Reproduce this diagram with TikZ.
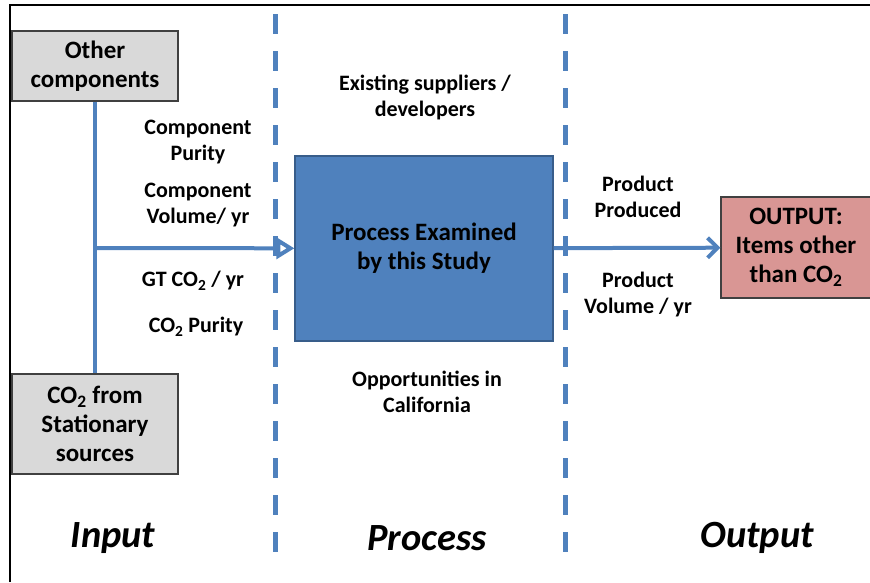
\documentclass[tikz,border=0pt]{standalone}
\usepackage{fontspec}
\setmainfont{Carlito}
\usetikzlibrary{arrows.meta}
\definecolor{lineblue}{HTML}{4F81BD}
\definecolor{procblue}{HTML}{4F81BD}
\definecolor{procedge}{HTML}{385D8A}
\definecolor{boxgray}{HTML}{D9D9D9}
\definecolor{outpink}{HTML}{D99694}
\definecolor{edgegray}{HTML}{404040}
\begin{document}
\begin{tikzpicture}[x=1pt,y=-1pt,
    srcbox/.style={draw=edgegray,line width=1.2pt,fill=boxgray,minimum width=166pt,inner sep=0pt,align=center,font=\fontsize{25}{29}\selectfont\bfseries},
    lbl/.style={align=center,font=\fontsize{22}{26}\selectfont\bfseries},
    stage/.style={font=\fontsize{38.5}{44}\selectfont\bfseries\itshape},
    flow/.style={draw=lineblue,line width=4pt},
    divider/.style={draw=lineblue,line width=5pt,dash pattern=on 20pt off 17pt}]
    \useasboundingbox (0,0) rectangle (870,582);
    % frame
    \draw[line width=2pt] (10,582)--(10,5)--(870,5);
    % dividers
    \draw[divider] (275,14)--(275,560);
    \draw[divider] (565,14)--(565,560);
    % boxes
    \node[srcbox,minimum height=70pt] (other) at (95,66) {Other\\components};
    \node[srcbox,minimum height=100pt] (co2) at (95,424) {CO\textsubscript{2} from\\Stationary\\sources};
    \node[draw=procedge,line width=1.2pt,fill=procblue,minimum width=258pt,minimum height=185pt,align=center,font=\fontsize{25}{29}\selectfont\bfseries] (proc) at (424,248.5) {Process Examined\\by this Study};
    \node[draw=edgegray,line width=1.2pt,fill=outpink,minimum width=150pt,minimum height=101pt,inner sep=0pt,align=center,font=\fontsize{25}{29}\selectfont\bfseries] (out) at (796,247.5) {OUTPUT:\\Items other\\than CO\textsubscript{2}};
    % connectors
    \coordinate (junc) at (95,248);
    \draw[flow] (other)--(co2);
    \draw[flow,-{Triangle[open,length=18pt,width=21pt]}] (junc)--(proc);
    \draw[flow,-{Straight Barb[length=10pt,width=20pt]}] (proc)--(out);
    % labels
    \node[lbl] (cpur) at (198,142) {Component\\Purity};
    \node[lbl] (cvol) at (198,205) {Component\\Volume/ yr};
    \node[lbl] (gt) at (193,281) {GT CO\textsubscript{2} / yr};
    \node[lbl] (copur) at (196,327) {CO\textsubscript{2} Purity};
    \node[lbl] (exist) at (425,97) {Existing suppliers /\\developers};
    \node[lbl] (opp) at (427,392) {Opportunities in\\California};
    \node[lbl] (prod) at (638,197) {Product\\Produced};
    \node[lbl] (pvol) at (638,295) {Product\\Volume / yr};
    \node[stage] (input) at (113,538) {Input};
    \node[stage] (process) at (427,538) {Process};
    \node[stage] (output) at (757,538) {Output};
\end{tikzpicture}
\end{document}
